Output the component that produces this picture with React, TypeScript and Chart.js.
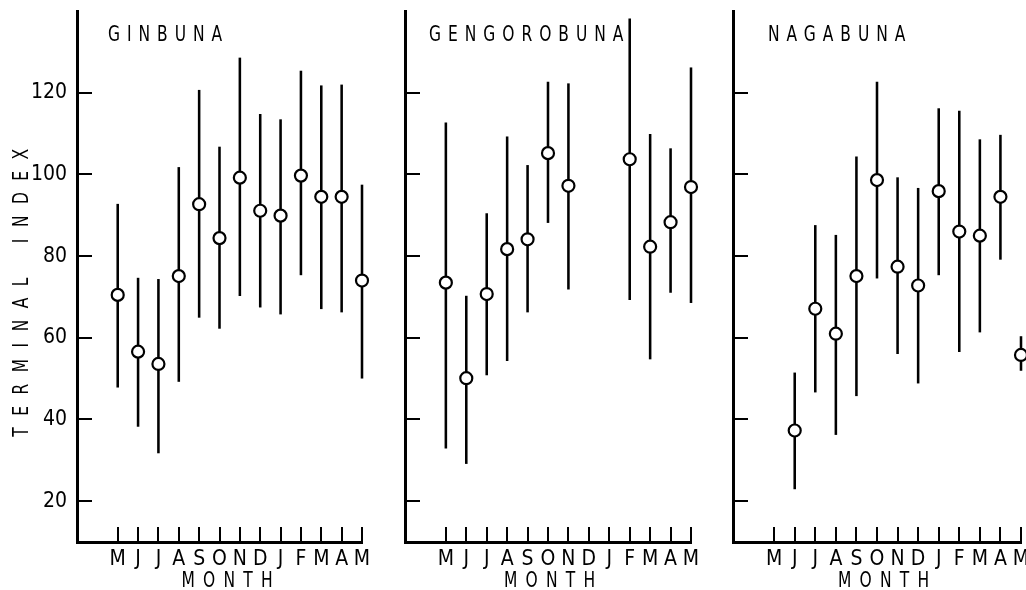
import React, { useEffect, useRef } from 'react';
import { Chart, registerables } from 'chart.js';

Chart.register(...registerables);

// ---------- data ----------
const MONTHS = ['M', 'J', 'J', 'A', 'S', 'O', 'N', 'D', 'J', 'F', 'M', 'A', 'M'];
const MONTH_POS = [0, 1, 2, 3, 4, 5, 6, 7, 8, 9, 10, 11, 12];
const Y_TICKS = [20, 40, 60, 80, 100, 120];
const Y_TITLE = 'TERMINAL INDEX';
const X_TITLE = 'MONTH';

const GINBUNA_MEAN = [70.5, 56.6, 53.6, 75.1, 92.7, 84.4, 99.2, 91.1, 89.9, 99.7, 94.5, 94.5, 74.0];
const GINBUNA_HIGH = [92.7, 74.6, 74.3, 101.7, 120.6, 106.7, 128.5, 114.7, 113.4, 125.3, 121.7, 121.9, 97.4];
const GINBUNA_LOW = [47.9, 38.3, 31.8, 49.3, 65.0, 62.3, 70.3, 67.5, 65.8, 75.4, 67.1, 66.3, 50.1];

const GENGOROBUNA_MEAN = [73.5, 50.1, 70.7, 81.7, 84.1, 105.2, 97.2, null, null, 103.7, 82.3, 88.3, 96.9];
const GENGOROBUNA_HIGH = [112.6, 70.2, 90.4, 109.2, 102.2, 122.6, 122.2, null, null, 138.1, 109.8, 106.3, 126.1];
const GENGOROBUNA_LOW = [33.0, 29.2, 50.9, 54.4, 66.3, 88.2, 71.9, null, null, 69.3, 54.8, 71.1, 68.6];

const NAGABUNA_MEAN = [null, 37.3, 67.1, 61.0, 75.1, 98.6, 77.4, 72.8, 95.9, 86.0, 85.0, 94.5, 55.8];
const NAGABUNA_HIGH = [null, 51.4, 87.5, 85.1, 104.3, 122.6, 99.2, 96.6, 116.1, 115.5, 108.5, 109.6, 60.3];
const NAGABUNA_LOW = [null, 23.0, 46.7, 36.3, 45.8, 74.6, 56.1, 48.9, 75.4, 56.6, 61.4, 79.2, 52.0];

// ---------- style ----------
const FONT = "'DejaVu Sans Condensed', 'Liberation Sans Narrow', sans-serif";
const FONT_SIZE = 21;
const SQUEEZE = 0.82;

const spacedTitles = {
  id: 'spacedTitles',
  afterDraw(chart: any, _args: any, opts: any) {
    const { ctx, chartArea } = chart;
    ctx.save();
    ctx.fillStyle = '#000';
    ctx.font = `${FONT_SIZE}px ${FONT}`;
    ctx.textBaseline = 'middle';

    // panel name, inside the plot area
    ctx.save();
    ctx.letterSpacing = '8.5px';
    ctx.textAlign = 'left';
    ctx.translate(chartArea.left + opts.nameDx, chartArea.top + 24.5);
    ctx.scale(SQUEEZE, 1);
    ctx.fillText(opts.name, 0, 0);
    ctx.restore();

    // x axis title
    ctx.save();
    ctx.letterSpacing = '10px';
    ctx.textAlign = 'center';
    ctx.translate((chartArea.left + chartArea.right) / 2 + opts.monthDx, chartArea.bottom + 40);
    ctx.scale(SQUEEZE, 1);
    ctx.fillText(X_TITLE, 0, 0);
    ctx.restore();

    // y axis title
    if (opts.yTitle) {
      ctx.save();
      ctx.letterSpacing = '14px';
      ctx.wordSpacing = '8px';
      ctx.textAlign = 'center';
      ctx.translate(22.5, 287);
      ctx.rotate(-Math.PI / 2);
      ctx.scale(SQUEEZE, 1);
      ctx.fillText(Y_TITLE, 0, 0);
      ctx.restore();
    }
    ctx.restore();
  },
};

type PanelProps = {
  name: string;
  mean: (number | null)[];
  low: (number | null)[];
  high: (number | null)[];
  yLabels: boolean;
  left: number;
  width: number;
  yWidth: number;
  padRight: number;
  nameDx: number;
  monthDx: number;
};

function Panel(p: PanelProps) {
  const ref = useRef<HTMLCanvasElement>(null);
  useEffect(() => {
    const points: any[] = [];
    const bars: any[] = [];
    MONTH_POS.forEach((x, i) => {
      const m = p.mean[i];
      const lo = p.low[i];
      const hi = p.high[i];
      if (m != null) points.push({ x, y: m });
      if (lo != null && hi != null) bars.push({ x, y: [lo, hi] });
    });
    const tickFont = { family: FONT, size: FONT_SIZE };
    const chart = new Chart(ref.current as HTMLCanvasElement, {
      type: 'bar',
      data: {
        datasets: [
          {
            type: 'scatter',
            label: p.name,
            data: points,
            pointRadius: 6,
            pointBorderWidth: 2.2,
            pointBackgroundColor: '#fff',
            pointBorderColor: '#000',
            showLine: false,
            order: 0,
            clip: false,
          } as any,
          {
            type: 'bar',
            label: p.name + ' range',
            data: bars,
            backgroundColor: '#000',
            borderWidth: 0,
            barThickness: 1.9,
            order: 1,
            clip: false,
          } as any,
        ],
      },
      options: {
        responsive: false,
        animation: false,
        devicePixelRatio: 1,
        events: [],
        layout: { autoPadding: false, padding: { top: 11, right: p.padRight, bottom: 0, left: 0 } },
        plugins: {
          legend: { display: false },
          tooltip: { enabled: false },
          spacedTitles: { name: p.name, nameDx: p.nameDx, monthDx: p.monthDx, yTitle: p.yLabels },
        } as any,
        scales: {
          x: {
            type: 'linear',
            min: -2,
            max: 12,
            offset: false,
            afterBuildTicks: (s: any) => {
              s.ticks = MONTH_POS.map((v) => ({ value: v }));
            },
            afterFit: (s: any) => {
              s.height = 48;
              s.paddingLeft = 0;
              s.paddingRight = 0;
            },
            grid: {
              offset: false,
              drawOnChartArea: false,
              drawTicks: true,
              tickLength: -15,
              tickWidth: 2,
              tickColor: '#000',
              color: '#000',
              lineWidth: 2,
            },
            border: { display: true, color: '#000', width: 3 },
            ticks: {
              autoSkip: false,
              maxRotation: 0,
              minRotation: 0,
              padding: 20,
              color: '#000',
              font: tickFont,
              callback: (_v: any, i: number) => MONTHS[i],
            },
          },
          y: {
            type: 'linear',
            min: 10,
            max: 140,
            afterBuildTicks: (s: any) => {
              s.ticks = Y_TICKS.map((v) => ({ value: v }));
            },
            afterFit: (s: any) => {
              s.width = p.yWidth;
              s.paddingTop = 0;
              s.paddingBottom = 0;
            },
            grid: {
              drawOnChartArea: false,
              drawTicks: true,
              tickLength: -15,
              tickWidth: 2,
              tickColor: '#000',
              color: '#000',
              lineWidth: 2,
            },
            border: { display: true, color: '#000', width: 3 },
            ticks: {
              display: p.yLabels,
              padding: 25,
              color: '#000',
              font: tickFont,
            },
          },
        } as any,
      },
      plugins: [spacedTitles as any],
    });
    return () => chart.destroy();
  }, []);
  return (
    <canvas
      ref={ref}
      width={p.width}
      height={590}
      style={{ position: 'absolute', left: p.left, top: 0, width: p.width, height: 590 }}
    />
  );
}

export default function App() {
  return (
    <div
      style={{
        position: 'fixed',
        left: 0,
        top: 0,
        width: 1026,
        height: 590,
        overflow: 'hidden',
        background: '#fff',
      }}
    >
      <Panel name="GINBUNA" mean={GINBUNA_MEAN} low={GINBUNA_LOW} high={GINBUNA_HIGH}
        yLabels={true} left={0} width={380} yWidth={77} padRight={18} nameDx={31} monthDx={11.6} />
      <Panel name="GENGOROBUNA" mean={GENGOROBUNA_MEAN} low={GENGOROBUNA_LOW} high={GENGOROBUNA_HIGH}
        yLabels={false} left={380} width={330} yWidth={25} padRight={19} nameDx={24} monthDx={5.6} />
      <Panel name="NAGABUNA" mean={NAGABUNA_MEAN} low={NAGABUNA_LOW} high={NAGABUNA_HIGH}
        yLabels={false} left={708} width={340} yWidth={25} padRight={27} nameDx={35} monthDx={10.6} />
    </div>
  );
}
